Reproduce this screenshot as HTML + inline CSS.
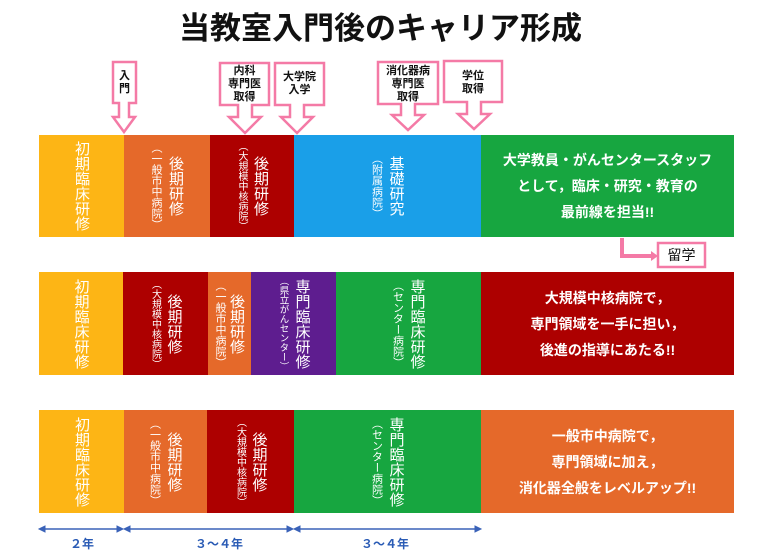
<!DOCTYPE html>
<html><head><meta charset="utf-8"><style>
body{margin:0;width:761px;height:560px;background:#fff;position:relative;overflow:hidden;font-family:"Liberation Sans","Noto Sans CJK JP",sans-serif}
.t{position:absolute;left:0;width:761px;top:3px;text-align:center;font-size:31px;font-weight:bold;color:#111}
.b{position:absolute;display:flex;flex-direction:row-reverse;justify-content:center;align-items:center;color:#fff;box-sizing:border-box;white-space:nowrap}
.m{writing-mode:vertical-rl;font-size:15px;line-height:19px;white-space:nowrap}
.s{writing-mode:vertical-rl;font-size:11px;line-height:14px;margin-right:3px;white-space:nowrap}
.s10{font-size:10px}
.r{position:absolute;color:#fff;font-size:14px;font-weight:bold;text-align:center;line-height:26px;box-sizing:border-box;display:flex;align-items:center;justify-content:center}
.cl{position:absolute;font-size:11px;font-weight:bold;line-height:13px;text-align:center;color:#111}
.y{background:#fdb515}.o{background:#e5692a}.d{background:#ad0000}.bl{background:#1a9fe8}.g{background:#17a640}.p{background:#5e1d8f}
.lab{position:absolute;font-size:12px;font-weight:bold;color:#2a5bb5;top:535px}
</style></head><body>
<div class="t">当教室入門後のキャリア形成</div>

<svg width="761" height="560" style="position:absolute;left:0;top:0" fill="#fff" stroke="#f47aa6" stroke-width="2.5">
<polygon points="113,62 136,62 136,103 129,103 129,117 135,117 124,132 113,117 119,117 119,103 113,103"/>
<polygon points="220,63 269,63 269,105 252,105 252,117 261,117 245,133 229,117 238,117 238,105 220,105"/>
<polygon points="275,63 324,63 324,105 304,105 304,117 313,117 297,133 281,117 290,117 290,105 275,105"/>
<polygon points="378,62 438,62 438,104 415,104 415,115 424,115 408,130 392,115 401,115 401,104 378,104"/>
<polygon points="444,61 502,61 502,102 481,102 481,114 490,114 474,129 458,114 467,114 467,102 444,102"/>
<rect x="658" y="243" width="47" height="24"/>
<polyline points="622,238 622,256 652,256" fill="none" stroke-width="4"/>
<polygon points="651,251 658,256 651,261" fill="#f47aa6" stroke="none"/>
</svg>
<div class="cl" style="left:113px;top:70px;width:23px">入<br>門</div>
<div class="cl" style="left:220px;top:65px;width:49px">内科<br>専門医<br>取得</div>
<div class="cl" style="left:275px;top:71px;width:49px">大学院<br>入学</div>
<div class="cl" style="left:378px;top:65px;width:60px">消化器病<br>専門医<br>取得</div>
<div class="cl" style="left:444px;top:70px;width:58px">学位<br>取得</div>
<div style="position:absolute;left:658px;top:243px;width:47px;height:24px;line-height:24px;text-align:center;font-size:14px;color:#111">留学</div>

<!-- row 1 -->
<div class="b y" style="left:39px;top:135px;width:85px;height:102px"><span class="m">初期臨床研修</span></div>
<div class="b o" style="left:124px;top:135px;width:86px;height:102px"><span class="m">後期研修</span><span class="s">（一般市中病院）</span></div>
<div class="b d" style="left:210px;top:135px;width:84px;height:102px"><span class="m">後期研修</span><span class="s s10">（大規模中核病院）</span></div>
<div class="b bl" style="left:294px;top:135px;width:187px;height:102px"><span class="m">基礎研究</span><span class="s">（附属病院）</span></div>
<div class="r g" style="left:481px;top:135px;width:253px;height:102px">大学教員・がんセンタースタッフ<br>として，臨床・研究・教育の<br>最前線を担当!!</div>

<!-- row 2 -->
<div class="b y" style="left:39px;top:272px;width:84px;height:103px"><span class="m">初期臨床研修</span></div>
<div class="b d" style="left:123px;top:272px;width:85px;height:103px"><span class="m">後期研修</span><span class="s s10">（大規模中核病院）</span></div>
<div class="b o" style="left:208px;top:272px;width:43px;height:103px"><span class="m">後期研修</span><span class="s" style="margin-right:0">（一般市中病院）</span></div>
<div class="b p" style="left:251px;top:272px;width:85px;height:103px"><span class="m">専門臨床研修</span><span class="s" style="font-size:9.5px">（県立がんセンター）</span></div>
<div class="b g" style="left:336px;top:272px;width:145px;height:103px"><span class="m">専門臨床研修</span><span class="s">（センター病院）</span></div>
<div class="r d" style="left:481px;top:272px;width:253px;height:103px">大規模中核病院で，<br>専門領域を一手に担い，<br>後進の指導にあたる!!</div>

<!-- row 3 -->
<div class="b y" style="left:39px;top:410px;width:85px;height:103px"><span class="m">初期臨床研修</span></div>
<div class="b o" style="left:124px;top:410px;width:83px;height:103px"><span class="m">後期研修</span><span class="s">（一般市中病院）</span></div>
<div class="b d" style="left:207px;top:410px;width:87px;height:103px"><span class="m">後期研修</span><span class="s s10">（大規模中核病院）</span></div>
<div class="b g" style="left:294px;top:410px;width:187px;height:103px"><span class="m">専門臨床研修</span><span class="s">（センター病院）</span></div>
<div class="r o" style="left:481px;top:410px;width:253px;height:103px">一般市中病院で，<br>専門領域に加え，<br>消化器全般をレベルアップ!!</div>

<svg width="761" height="560" style="position:absolute;left:0;top:0" stroke="#3a62b8" fill="#3a62b8">
<line x1="42" y1="529" x2="120" y2="529" stroke-width="1.5"/>
<polygon points="39,529 45,526 45,532"/><polygon points="123,529 117,526 117,532"/>
<line x1="127" y1="529" x2="290" y2="529" stroke-width="1.5"/>
<polygon points="124,529 130,526 130,532"/><polygon points="293,529 287,526 287,532"/>
<line x1="297" y1="529" x2="478" y2="529" stroke-width="1.5"/>
<polygon points="294,529 300,526 300,532"/><polygon points="481,529 475,526 475,532"/>
</svg>
<div class="lab" style="left:70px">２年</div>
<div class="lab" style="left:195px">３～４年</div>
<div class="lab" style="left:361px">３～４年</div>
</body></html>
